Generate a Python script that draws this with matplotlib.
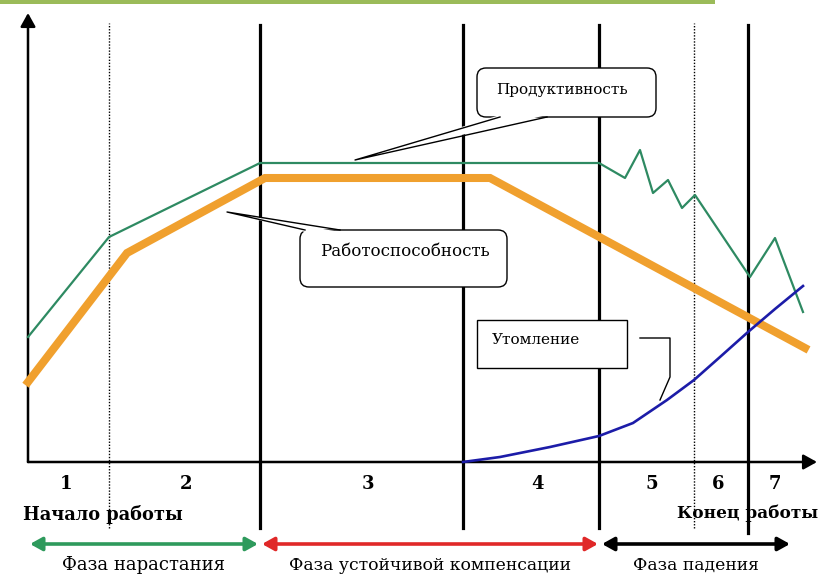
import matplotlib.pyplot as plt
from matplotlib.patches import FancyBboxPatch, Rectangle, Polygon

# ось x - время работы, ось y - уровень показателя (условные единицы)
bounds_solid = [232, 435, 571, 720]
bounds_dotted = [81, 666]

prod_x = [0, 81, 232, 571, 597, 612, 625, 640, 654, 667, 722, 747, 775]
prod_y = [125, 225, 299, 299, 284, 312, 269, 282, 254, 267, 185, 224, 150]

work_x = [0, 99, 237, 462, 777]
work_y = [80, 209, 284, 284, 114]

fat_x = [435, 472, 522, 571, 605, 639, 666, 692, 720, 747, 775]
fat_y = [0, 5, 15, 26, 39, 62, 82, 105, 130, 153, 176]

stage_labels = ['1', '2', '3', '4', '5', '6', '7']
stage_pos = [38, 158, 340, 509, 624, 690, 747]

phase_labels = ['Фаза нарастания', 'Фаза устойчивой компенсации', 'Фаза падения']
phase_start = [2, 234, 574]
phase_end = [230, 570, 762]
phase_colors = ['#2e9a5c', '#e02828', '#000000']
phase_font = [13, 12.4, 12.4]

SERIF = 'DejaVu Serif'


def callout(ax, x0, y0, x1, y1, base, tip, rounded=True):
    if rounded:
        box = FancyBboxPatch((x0, y0), x1 - x0, y1 - y0,
                             boxstyle='round,pad=0,rounding_size=9',
                             fc='white', ec='black', lw=1.0, zorder=6)
    else:
        box = Rectangle((x0, y0), x1 - x0, y1 - y0,
                        fc='white', ec='black', lw=1.0, zorder=6)
    ax.add_patch(box)
    if tip is not None:
        (bx1, by1), (bx2, by2) = base
        d = 2 if by1 == y0 else -2
        fill = Polygon([(bx1, by1 + d), tip, (bx2, by2 + d)], closed=True,
                       fc='white', ec='none', zorder=7)
        ax.add_patch(fill)
        ax.plot([bx1, tip[0], bx2], [by1, tip[1], by2], color='black',
                lw=1.0, zorder=7)


def main():
    fig = plt.figure(figsize=(8.33, 5.77), dpi=100)
    ax = fig.add_axes([0, 0, 1, 1])
    ax.set_xlim(-28, 805)
    ax.set_ylim(-115, 462)
    ax.axis('off')

    # зелёная полоса сверху
    fig.patches.append(Rectangle((0, 1 - 4 / 577), 715 / 833, 4 / 577,
                                 transform=fig.transFigure, fc='#9bbb59',
                                 ec='none'))

    # оси
    axis_arrow = '-|>,head_length=0.45,head_width=0.25'
    ax.annotate('', xy=(0, 449), xytext=(0, 0),
                arrowprops=dict(arrowstyle=axis_arrow, color='black', lw=1.8,
                                mutation_scale=18, shrinkA=0, shrinkB=0))
    ax.annotate('', xy=(789, 0), xytext=(0, 0),
                arrowprops=dict(arrowstyle=axis_arrow, color='black', lw=1.8,
                                mutation_scale=18, shrinkA=0, shrinkB=0))

    for x in bounds_solid:
        bottom = -71 if x == bounds_solid[-1] else -66
        ax.plot([x, x], [bottom, 437], color='black', lw=2.3, zorder=2)
    for x in bounds_dotted:
        ax.plot([x, x], [-66, 439], color='black', lw=1.0,
                ls=(0, (1, 1.2)), zorder=2)

    # кривые
    ax.plot(work_x, work_y, color='#f0a02e', lw=5.8, zorder=3,
            solid_joinstyle='miter')
    ax.plot(prod_x, prod_y, color='#2e8a62', lw=1.6, zorder=4)
    ax.plot(fat_x, fat_y, color='#1c1ca8', lw=1.9, zorder=4)

    # выноски
    callout(ax, 449, 345, 628, 394, [(472, 345), (519, 345)], (327, 302))
    ax.text(534, 372, 'Продуктивность', family=SERIF, fontsize=11,
            ha='center', va='center', zorder=8)
    callout(ax, 272, 175, 479, 232, [(277, 232), (312, 232)], (199, 250))
    ax.text(377, 210, 'Работоспособность', family=SERIF, fontsize=12,
            ha='center', va='center', zorder=8)
    callout(ax, 449, 94, 599, 142, None, None, rounded=False)
    ax.text(464, 122, 'Утомление', family=SERIF, fontsize=11,
            ha='left', va='center', zorder=8)
    ax.plot([612, 642, 642, 632], [124, 124, 85, 62], color='black',
            lw=1.0, zorder=5)

    # номера этапов
    for lbl, x in zip(stage_labels, stage_pos):
        ax.text(x, -22, lbl, family=SERIF, fontsize=13, fontweight='bold',
                ha='center', va='center')
    ax.text(-5, -52, 'Начало работы', family=SERIF, fontsize=12.8,
            fontweight='bold', ha='left', va='center')
    ax.text(790, -51, 'Конец работы', family=SERIF, fontsize=12.2,
            fontweight='bold', ha='right', va='center', zorder=5)

    # фазы
    phase_arrow = '<|-|>,head_length=0.45,head_width=0.25'
    for lbl, a, b, c, fs in zip(phase_labels, phase_start, phase_end,
                                phase_colors, phase_font):
        ax.annotate('', xy=(b, -82), xytext=(a, -82),
                    arrowprops=dict(arrowstyle=phase_arrow, color=c, lw=2.6,
                                    mutation_scale=16, shrinkA=0, shrinkB=0))
        ax.text((a + b) / 2, -103, lbl, family=SERIF, fontsize=fs,
                ha='center', va='center')

    fig.savefig('out.png', dpi=100)


if __name__ == '__main__':
    main()
